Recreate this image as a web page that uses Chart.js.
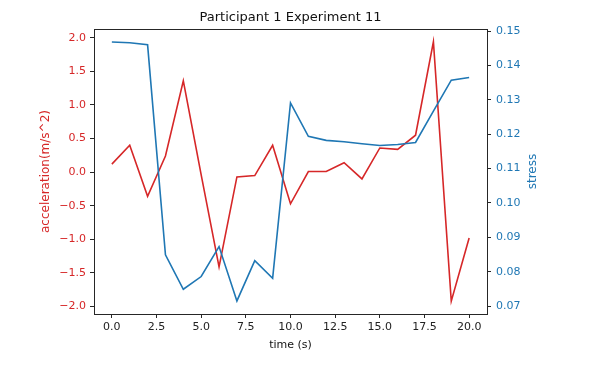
<!DOCTYPE html>
<html>
<head>
<meta charset="utf-8">
<script src="https://cdn.jsdelivr.net/npm/chart.js@4.4.1/dist/chart.umd.min.js"></script>
<style>
  html, body { margin: 0; padding: 0; background: #fff; }
  #wrap { width: 592px; height: 365px; }
</style>
</head>
<body>
<div id="wrap"><canvas id="expChart" width="592" height="365"></canvas></div>
<script>
// Participant 1, experiment 11 - acceleration vs stress over time
const times = [0, 1, 2, 3, 4, 5, 6, 7, 8, 9, 10, 11, 12, 13, 14, 15, 16, 17, 18, 19, 20];
const acceleration = [0.12, 0.40, -0.36, 0.24, 1.36, -0.04, -1.41, -0.07, -0.05, 0.40, -0.47,
  0.01, 0.01, 0.14, -0.10, 0.36, 0.34, 0.55, 1.94, -1.92, -0.98];
const stress = [0.1468, 0.1466, 0.1460, 0.0849, 0.0749, 0.0786, 0.0873, 0.0715, 0.0832, 0.0781, 0.1291,
  0.1194, 0.1182, 0.1178, 0.1172, 0.1167, 0.1170, 0.1176, 0.1267, 0.1357, 0.1365];

const timeTicks = [0, 2.5, 5, 7.5, 10, 12.5, 15, 17.5, 20];
const accelTicks = [-2.0, -1.5, -1.0, -0.5, 0.0, 0.5, 1.0, 1.5, 2.0];
const stressTicks = [0.07, 0.08, 0.09, 0.10, 0.11, 0.12, 0.13, 0.14, 0.15];

const RED = '#d62728';
const BLUE = '#1f77b4';
const INK = '#262626';
const FONT = "'DejaVu Sans', sans-serif";

function fmtMinus(v, digits) {
  return v.toFixed(digits).replace('-', '\u2212');
}

function fixedTicks(values) {
  return function(scale) {
    scale.ticks = values.map(v => ({ value: v }));
  };
}

// frame around the plot + right-hand axis label (matplotlib reads it bottom-to-top)
const framePlugin = {
  id: 'frame',
  afterDraw(chart) {
    const { ctx, chartArea: a } = chart;
    ctx.save();
    ctx.strokeStyle = INK;
    ctx.lineWidth = 1;
    ctx.strokeRect(a.left + 0.5, a.top + 0.5, a.right - a.left, a.bottom - a.top);
    ctx.translate(a.right + 46, (a.top + a.bottom) / 2);
    ctx.rotate(-Math.PI / 2);
    ctx.fillStyle = BLUE;
    ctx.font = '12px ' + FONT;
    ctx.textAlign = 'center';
    ctx.textBaseline = 'middle';
    ctx.fillText('stress', 0, 0);
    ctx.restore();
  }
};

let expChart = null;

function initExpChart() {
  const ctx = document.getElementById('expChart');
  if (!ctx) return;
  if (expChart) expChart.destroy();

  expChart = new Chart(ctx, {
    type: 'line',
    data: {
      datasets: [
        {
          label: 'acceleration',
          data: times.map((t, i) => ({ x: t, y: acceleration[i] })),
          borderColor: RED,
          borderWidth: 1.6,
          pointRadius: 0,
          tension: 0,
          yAxisID: 'yAcc',
          order: 1
        },
        {
          label: 'stress',
          data: times.map((t, i) => ({ x: t, y: stress[i] })),
          borderColor: BLUE,
          borderWidth: 1.6,
          pointRadius: 0,
          tension: 0,
          yAxisID: 'yStress',
          order: 0
        }
      ]
    },
    options: {
      responsive: false,
      animation: false,
      devicePixelRatio: 1,
      layout: { padding: { left: 32, right: 50, top: 0, bottom: 0 } },
      plugins: {
        legend: { display: false },
        tooltip: { enabled: false },
        title: {
          display: true,
          text: 'Participant 1 Experiment 11',
          fullSize: false,
          color: '#111',
          font: { family: FONT, size: 13, weight: 'normal' },
          padding: { top: 10, bottom: 3.4 }
        }
      },
      scales: {
        x: {
          type: 'linear',
          min: -1,
          max: 21,
          afterBuildTicks: fixedTicks(timeTicks),
          afterFit(scale) { scale.height = 51; },
          border: { color: INK, width: 1 },
          grid: { drawOnChartArea: false, color: INK, tickLength: 4 },
          ticks: {
            color: '#222',
            padding: 3,
            maxRotation: 0,
            font: { family: FONT, size: 11 },
            callback: v => fmtMinus(v, 1)
          },
          title: {
            display: true,
            text: 'time (s)',
            color: '#111',
            font: { family: FONT, size: 11 },
            padding: { top: 0, bottom: 13 }
          }
        },
        yAcc: {
          type: 'linear',
          position: 'left',
          min: -2.11,
          max: 2.13,
          afterBuildTicks: fixedTicks(accelTicks),
          afterFit(scale) { scale.width = 62; },
          border: { color: INK, width: 1 },
          grid: { drawOnChartArea: false, color: INK, tickLength: 4 },
          ticks: {
            color: RED,
            padding: 4,
            font: { family: FONT, size: 11 },
            callback: v => fmtMinus(v, 1)
          },
          title: {
            display: true,
            text: 'acceleration(m/s^2)',
            color: RED,
            font: { family: FONT, size: 12 },
            padding: { top: 7, bottom: 0 }
          }
        },
        yStress: {
          type: 'linear',
          position: 'right',
          min: 0.0677,
          max: 0.1506,
          afterBuildTicks: fixedTicks(stressTicks),
          afterFit(scale) { scale.width = 55; },
          border: { color: INK, width: 1 },
          grid: { drawOnChartArea: false, color: INK, tickLength: 4 },
          ticks: {
            color: BLUE,
            padding: 5,
            font: { family: FONT, size: 11 },
            callback: v => v.toFixed(2)
          }
        }
      }
    },
    plugins: [framePlugin]
  });
}

document.addEventListener('DOMContentLoaded', initExpChart);
</script>
</body>
</html>
